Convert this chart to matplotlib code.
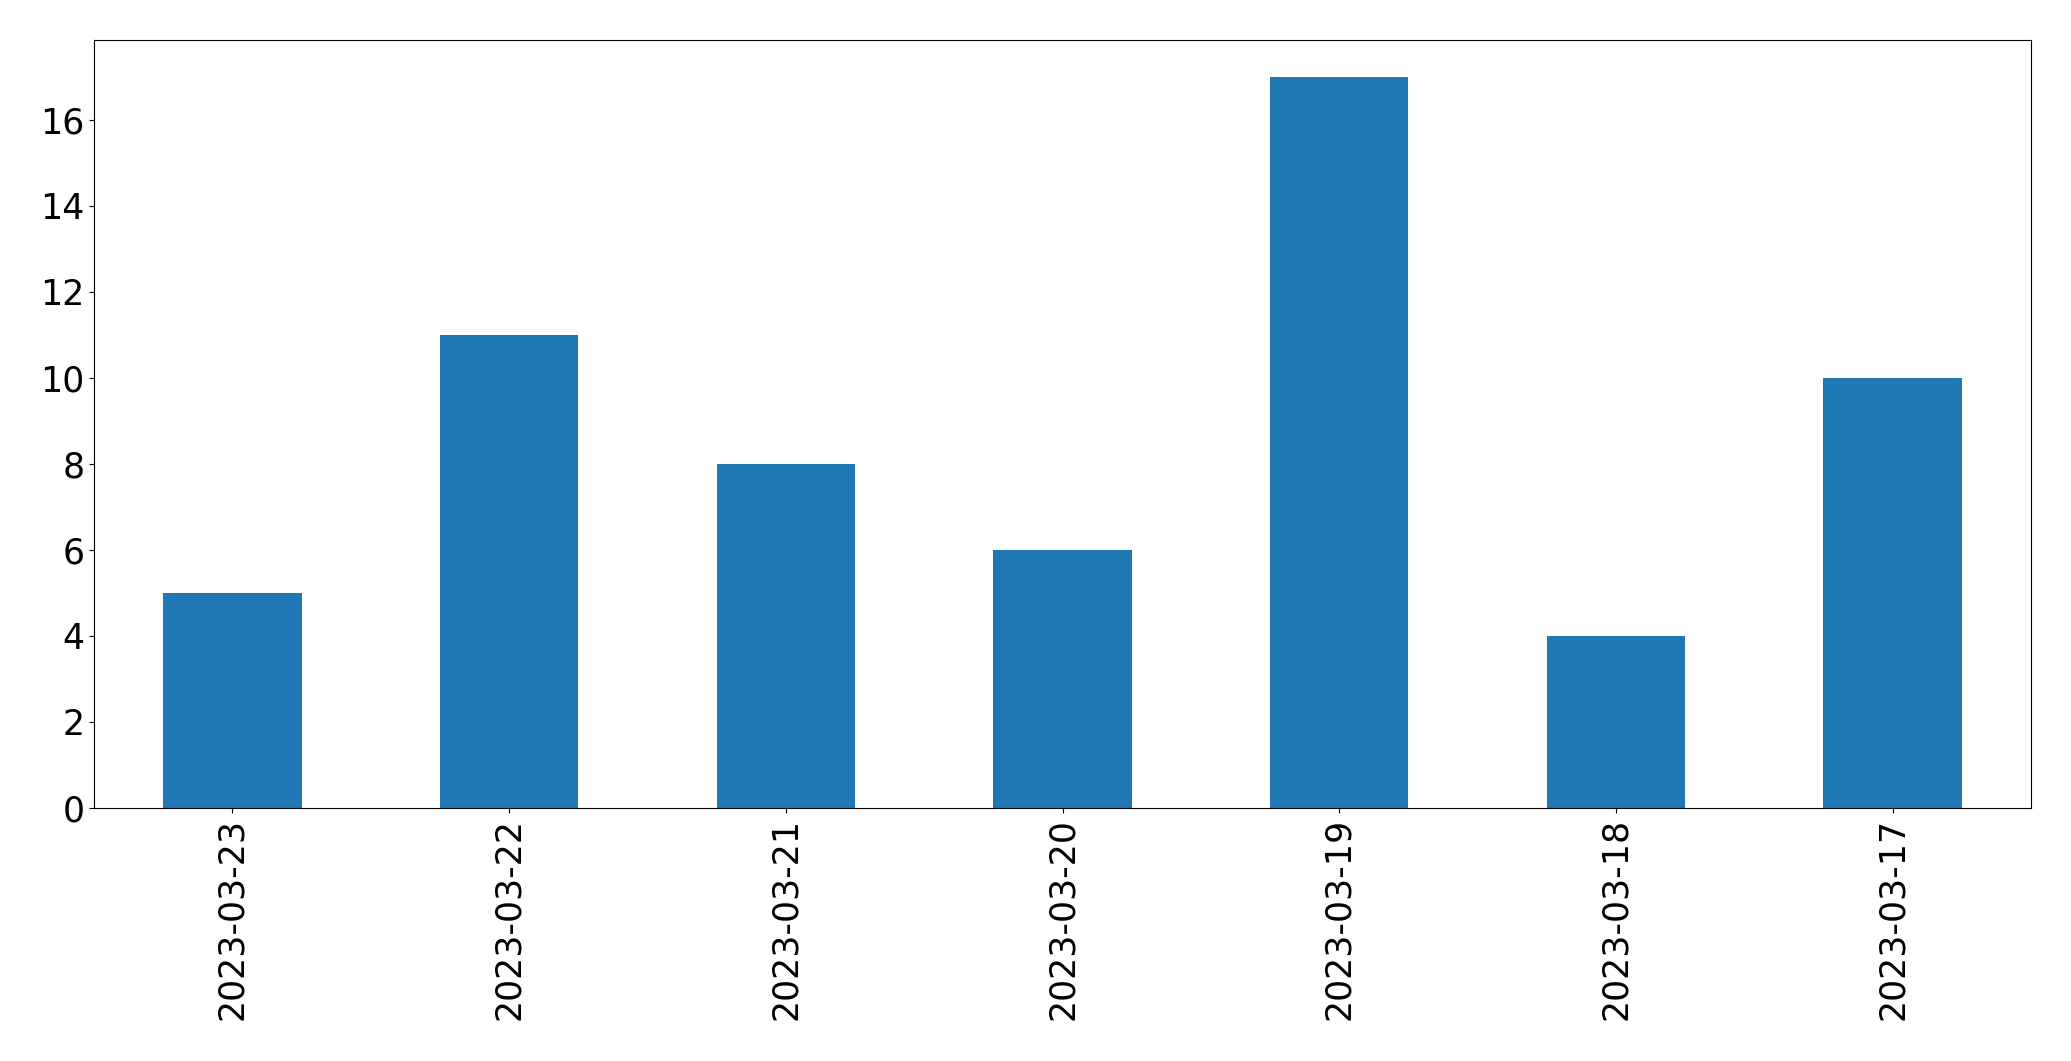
import matplotlib
matplotlib.use("Agg")
import matplotlib.pyplot as plt
import numpy as np

DATES  = ["2023-03-23", "2023-03-22", "2023-03-21", "2023-03-20",
          "2023-03-19", "2023-03-18", "2023-03-17"]
COUNTS = [5, 11, 8, 6, 17, 4, 10]


def plot_counts():
    fig, ax = plt.subplots(figsize=(20.71, 10.61), dpi=100)
    x = np.arange(len(DATES))
    ax.bar(x, COUNTS, width=0.5, color="#1f77b4")
    ax.set_xlim(-0.5, len(DATES) - 0.5)
    ax.set_xticks(x)
    ax.set_xticklabels(DATES, rotation=90)
    ax.tick_params(axis="both", labelsize=25)
    fig.subplots_adjust(left=0.0454, right=0.9807, top=0.9623, bottom=0.2385)
    fig.savefig("out.png", dpi=100)
    plt.close(fig)


if __name__ == "__main__":
    plot_counts()
